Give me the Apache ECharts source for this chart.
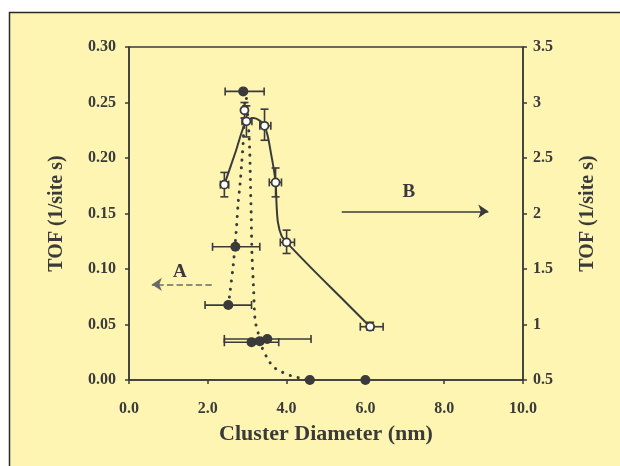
<!DOCTYPE html>
<html><head><meta charset="utf-8">
<script src="https://cdn.jsdelivr.net/npm/echarts@6/dist/echarts.min.js"></script>
<style>html,body{margin:0;padding:0;background:#fff}#c{width:620px;height:466px}</style>
</head><body><div id="c"></div>
<script>
// ---- Series A (left axis, filled circles, horizontal error bars) ----
const aX     = [2.90, 2.70, 2.52, 3.11, 3.32, 3.51, 4.59, 6.00];
const aY     = [0.260, 0.120, 0.0675, 0.034, 0.035, 0.037, 0.000, 0.000];
const aXLow  = [2.44, 2.12, 1.93, 2.42, null, 2.42, null, null];
const aXHigh = [3.43, 3.32, 3.11, 3.80, null, 4.62, null, null];
// dotted fitted curve for A
const curveAX = [2.52, 2.56, 2.65, 2.73, 2.77, 2.82, 2.86, 2.90, 2.93, 2.97, 3.01, 3.06, 3.08, 3.10, 3.12, 3.16, 3.20, 3.28, 3.37, 3.49, 3.66, 3.88, 4.13, 4.38, 4.59];
const curveAY = [0.0675, 0.078, 0.105, 0.138, 0.159, 0.177, 0.195, 0.215, 0.245, 0.255, 0.240, 0.210, 0.180, 0.150, 0.114, 0.084, 0.054, 0.042, 0.030, 0.021, 0.012, 0.0072, 0.0036, 0.0015, 0.0];

// ---- Series B (right axis, open circles, x and y error bars) ----
const bX     = [2.42, 2.93, 2.98, 3.44, 3.72, 4.00, 6.12];
const bY     = [2.26, 2.93, 2.83, 2.79, 2.28, 1.74, 0.98];
const bXLow  = [2.32, null, 2.87, 3.32, 3.56, 3.84, 5.87];
const bXHigh = [2.53, null, 3.12, 3.60, 3.87, 4.20, 6.45];
const bYLow  = [2.15, 2.86, 2.69, 2.66, 2.15, 1.64, 0.95];
const bYHigh = [2.37, 3.00, 2.97, 2.94, 2.41, 1.85, 1.02];
// solid fitted curve for B
const curveBX = [2.42, 2.70, 2.97, 3.16, 3.44, 3.62, 3.72, 3.745, 3.78, 3.87, 4.00, 4.68, 5.36, 6.12];
const curveBY = [2.26, 2.55, 2.83, 2.86, 2.79, 2.51, 2.28, 2.08, 1.92, 1.80, 1.74, 1.49, 1.25, 0.98];

// ---- annotations ----
const arrowA = [[2.10, 0.0861], [0.58, 0.0861]];
const arrowB = [[5.40, 0.152], [9.12, 0.152]];
const labelA = [1.29, 0.0972];
const labelB = [7.10, 0.169];

const xTicksMin = 0, xTicksMax = 10, xStep = 2;
const yLeftMin = 0, yLeftMax = 0.30, yLeftStep = 0.05;
const yRightMin = 0.5, yRightMax = 3.5, yRightStep = 0.5;

const INK = '#3a3a3a';
const FONT = '"Liberation Serif", "Times New Roman", serif';

function zip(a, b) { return a.map((v, i) => [v, b[i]]); }

function errRenderer(X, Y, XL, XH, YL, YH) {
  return function (params, api) {
    const i = params.dataIndex;
    const c = api.coord([X[i], Y[i]]);
    const kids = [];
    const st = { stroke: INK, lineWidth: 1.6 };
    const cap = 4;
    if (XL && XL[i] != null) {
      const l = api.coord([XL[i], Y[i]]), h = api.coord([XH[i], Y[i]]);
      kids.push({ type: 'line', shape: { x1: l[0], y1: c[1], x2: h[0], y2: c[1] }, style: st });
      kids.push({ type: 'line', shape: { x1: l[0], y1: c[1] - cap, x2: l[0], y2: c[1] + cap }, style: st });
      kids.push({ type: 'line', shape: { x1: h[0], y1: c[1] - cap, x2: h[0], y2: c[1] + cap }, style: st });
    }
    if (YL && YL[i] != null) {
      const l = api.coord([X[i], YL[i]]), h = api.coord([X[i], YH[i]]);
      kids.push({ type: 'line', shape: { x1: c[0], y1: l[1], x2: c[0], y2: h[1] }, style: st });
      kids.push({ type: 'line', shape: { x1: c[0] - cap, y1: l[1], x2: c[0] + cap, y2: l[1] }, style: st });
      kids.push({ type: 'line', shape: { x1: c[0] - cap, y1: h[1], x2: c[0] + cap, y2: h[1] }, style: st });
    }
    return { type: 'group', children: kids };
  };
}

const chart = echarts.init(document.getElementById('c'), null, { renderer: 'canvas' });
const axisText = { color: INK, fontFamily: FONT, fontWeight: 'bold' };

chart.setOption({
  animation: false,
  backgroundColor: '#ffffff',
  graphic: { elements: [
    { type: 'rect', z: -100, silent: true,
      shape: { x: 9.5, y: 12.5, width: 640, height: 470 },
      style: { fill: '#fdf5b1', stroke: '#2a2a2a', lineWidth: 1.5 } }
  ]},
  grid: { left: 129, right: 97, top: 47, bottom: 86, show: true,
          borderColor: INK, borderWidth: 1.5, backgroundColor: 'transparent' },
  xAxis: {
    type: 'value', min: xTicksMin, max: xTicksMax, interval: xStep,
    name: 'Cluster Diameter (nm)', nameLocation: 'middle', nameGap: 43,
    nameTextStyle: Object.assign({ fontSize: 22 }, axisText),
    axisLine: { show: true, lineStyle: { color: INK, width: 1.5 } },
    axisTick: { show: true, length: 4, lineStyle: { color: INK, width: 1.5 } },
    axisLabel: Object.assign({ fontSize: 16, margin: 21, formatter: v => v.toFixed(1) }, axisText),
    splitLine: { show: false }
  },
  yAxis: [{
    type: 'value', min: yLeftMin, max: yLeftMax, interval: yLeftStep, position: 'left',
    name: 'TOF (1/site s)', nameLocation: 'middle', nameGap: 62,
    nameTextStyle: Object.assign({ fontSize: 20 }, axisText),
    axisLine: { show: true, lineStyle: { color: INK, width: 1.5 } },
    axisTick: { show: true, length: 4, lineStyle: { color: INK, width: 1.5 } },
    axisLabel: Object.assign({ fontSize: 16, margin: 13, formatter: v => v.toFixed(2) }, axisText),
    splitLine: { show: false }
  }, {
    type: 'value', min: yRightMin, max: yRightMax, interval: yRightStep, position: 'right',
    name: 'TOF (1/site s)', nameLocation: 'middle', nameGap: 55,
    nameTextStyle: Object.assign({ fontSize: 20 }, axisText),
    axisLine: { show: true, lineStyle: { color: INK, width: 1.5 } },
    axisTick: { show: true, length: 4, lineStyle: { color: INK, width: 1.5 } },
    axisLabel: Object.assign({ fontSize: 16, margin: 10, formatter: v => String(v) }, axisText),
    splitLine: { show: false }
  }],
  series: [
    { type: 'line', yAxisIndex: 0, data: zip(curveAX, curveAY), smooth: 0.3, symbol: 'none', z: 2,
      lineStyle: { color: INK, width: 3, type: [0.1, 8], cap: 'round' },
      markLine: { silent: true, symbol: ['none', 'arrow'], symbolSize: 10, label: { show: false },
        data: [
          [{ coord: arrowA[0], lineStyle: { color: '#6a6a6a', width: 1.6, type: 'dashed' } }, { coord: arrowA[1] }],
          [{ coord: arrowB[0], lineStyle: { color: INK, width: 1.6, type: 'solid' } }, { coord: arrowB[1] }]
        ] },
      markPoint: { silent: true, symbol: 'circle', symbolSize: 0,
        label: { show: true, position: 'inside', formatter: '{b}', color: INK, fontFamily: FONT, fontWeight: 'bold', fontSize: 19 },
        data: [ { name: 'A', coord: labelA }, { name: 'B', coord: labelB } ] }
    },
    { type: 'line', yAxisIndex: 1, data: zip(curveBX, curveBY), smooth: 0.3, symbol: 'none', z: 2,
      lineStyle: { color: INK, width: 2 } },
    { type: 'custom', yAxisIndex: 0, data: zip(aX, aY), z: 3,
      renderItem: errRenderer(aX, aY, aXLow, aXHigh, null, null) },
    { type: 'custom', yAxisIndex: 1, data: zip(bX, bY), z: 3,
      renderItem: errRenderer(bX, bY, bXLow, bXHigh, bYLow, bYHigh) },
    { type: 'scatter', yAxisIndex: 0, data: zip(aX, aY), symbol: 'circle', symbolSize: 10, z: 5,
      itemStyle: { color: INK, opacity: 1 } },
    { type: 'scatter', yAxisIndex: 1, data: zip(bX, bY), symbol: 'circle', symbolSize: 8, z: 5,
      itemStyle: { color: '#ffffff', borderColor: INK, borderWidth: 1.8, opacity: 1 } }
  ]
});
</script></body></html>
